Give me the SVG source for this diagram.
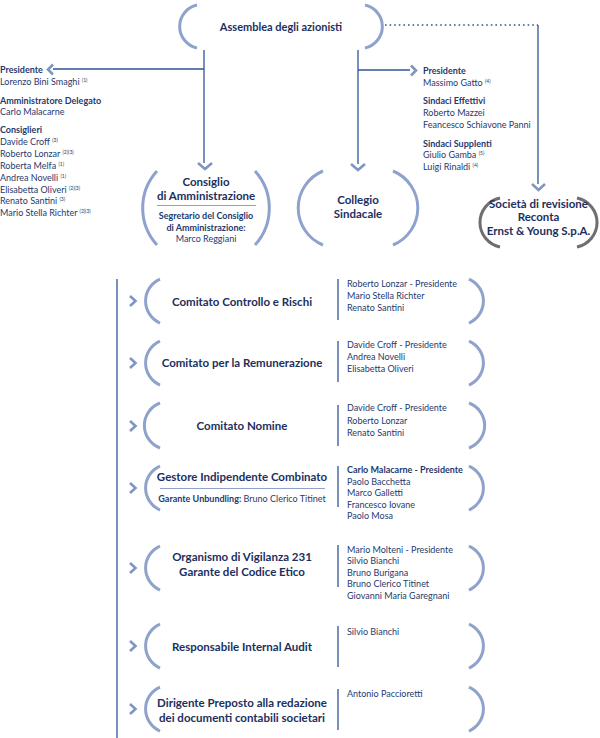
<svg xmlns="http://www.w3.org/2000/svg" width="600" height="738" viewBox="0 0 600 738">
<style>
text{font-family:Lato,"Liberation Sans",sans-serif;fill:#1f3a6e}
.t{font-size:11.5px;font-weight:bold;text-anchor:middle;fill:#1c2f5e}
.ts{font-size:9px;text-anchor:middle}
.l{font-size:9px}
.b{font-weight:bold}
.sup{font-size:5px}
.arc{fill:none;stroke:#8ea2cc;stroke-width:3}
.garc{fill:none;stroke:#6e6e6e;stroke-width:3}
.ln{fill:none;stroke:#2d5597;stroke-width:1.3}
.chev{fill:none;stroke:#7f95c4;stroke-width:2.6}
</style>
<g id="connectors">
<line class="ln" x1="204" y1="50" x2="204" y2="163"/>
<line class="ln" x1="53" y1="69" x2="204" y2="69"/>
<line class="ln" x1="358" y1="50" x2="358" y2="164"/>
<line class="ln" x1="358" y1="70" x2="410" y2="70"/>
<line class="ln" x1="385" y1="25" x2="538" y2="25" stroke-dasharray="1.6 3" stroke-width="1.8"/>
<line class="ln" x1="538" y1="25" x2="538" y2="184"/>
<polyline class="chev" points="53,64.5 48,69.5 53,74.5"/>
<polyline class="chev" points="411,65.5 416,70.5 411,75.5"/>
<polyline class="chev" points="198,163 205,169 212,163"/>
<polyline class="chev" points="351,164 358,170 365,164"/>
<polyline class="chev" points="532,184 538.5,190 545,184"/>
<line class="ln" x1="117" y1="279" x2="117" y2="738"/>
</g>
<g id="assemblea">
<path class="arc" d="M197,5 A22,22 0 0 0 197,48"/>
<path class="arc" d="M365,5 A22,22 0 0 1 365,48"/>
<text class="t" x="281" y="31" style="font-size:11px">Assemblea degli azionisti</text>
</g>
<g id="cda-list">
<text class="l b" x="0" y="73">Presidente</text>
<text class="l" x="0" y="85">Lorenzo Bini Smaghi <tspan class="sup" dy="-3">(1)</tspan></text>
<text class="l b" x="0" y="104">Amministratore Delegato</text>
<text class="l" x="0" y="115">Carlo Malacarne</text>
<text class="l b" x="0" y="133">Consiglieri</text>
<text class="l" x="0" y="145">Davide Croff <tspan class="sup" dy="-3">(3)</tspan></text>
<text class="l" x="0" y="157">Roberto Lonzar <tspan class="sup" dy="-3">(2)(3)</tspan></text>
<text class="l" x="0" y="168.5">Roberta Melfa <tspan class="sup" dy="-3">(1)</tspan></text>
<text class="l" x="0" y="180.5">Andrea Novelli <tspan class="sup" dy="-3">(1)</tspan></text>
<text class="l" x="0" y="192.5">Elisabetta Oliveri <tspan class="sup" dy="-3">(2)(3)</tspan></text>
<text class="l" x="0" y="204">Renato Santini <tspan class="sup" dy="-3">(3)</tspan></text>
<text class="l" x="0" y="216">Mario Stella Richter <tspan class="sup" dy="-3">(2)(3)</tspan></text>
</g>
<g id="collegio-list">
<text class="l b" x="423" y="74">Presidente</text>
<text class="l" x="423" y="86">Massimo Gatto <tspan class="sup" dy="-3">(4)</tspan></text>
<text class="l b" x="423" y="104">Sindaci Effettivi</text>
<text class="l" x="423" y="116">Roberto Mazzei</text>
<text class="l" x="423" y="128">Feancesco Schiavone Panni</text>
<text class="l b" x="423" y="147">Sindaci Supplenti</text>
<text class="l" x="423" y="158">Giulio Gamba <tspan class="sup" dy="-3">(5)</tspan></text>
<text class="l" x="423" y="170">Luigi Rinaldi <tspan class="sup" dy="-3">(4)</tspan></text>
</g>
<g id="consiglio">
<path class="arc" d="M157,171 A55,55 0 0 0 157,245"/>
<path class="arc" d="M255,171 A55,55 0 0 1 255,245"/>
<text class="t" x="206" y="186">Consiglio</text>
<text class="t" x="206" y="200">di Amministrazione</text>
<line x1="157" y1="205.5" x2="256" y2="205.5" stroke="#8ea2cc" stroke-width="1"/>
<text class="ts b" x="206" y="219">Segretario del Consiglio</text>
<text class="ts b" x="206" y="231">di Amministrazione:</text>
<text class="ts" x="206" y="242">Marco Reggiani</text>
</g>
<g id="collegio">
<path class="arc" d="M323,171 A40,40 0 0 0 323,245"/>
<path class="arc" d="M393,171 A40,40 0 0 1 393,245"/>
<text class="t" x="358" y="204">Collegio</text>
<text class="t" x="358" y="218">Sindacale</text>
</g>
<g id="societa">
<path class="garc" d="M500,198 A25,25 0 0 0 500,247"/>
<path class="garc" d="M577,198 A25,25 0 0 1 577,247"/>
<text class="t" x="538.5" y="208">Società di revisione</text>
<text class="t" x="538.5" y="221">Reconta</text>
<text class="t" x="538.5" y="235">Ernst &amp; Young S.p.A.</text>
</g>
<g id="comitato-controllo">
<polyline class="chev" points="130,296 135.5,301 130,306"/>
<path class="arc" d="M160,279 A24,24 0 0 0 160,323"/>
<path class="arc" d="M469,279 A24,24 0 0 1 469,323"/>
<text class="t" x="242" y="306">Comitato Controllo e Rischi</text>
<line class="ln" x1="338" y1="279" x2="338" y2="320"/>
<text class="l" x="347" y="287">Roberto Lonzar - Presidente</text>
<text class="l" x="347" y="299">Mario Stella Richter</text>
<text class="l" x="347" y="310.5">Renato Santini</text>
</g>
<g id="comitato-remunerazione">
<polyline class="chev" points="130,358 135.5,363 130,368"/>
<path class="arc" d="M160,341 A24,24 0 0 0 160,385"/>
<path class="arc" d="M469,341 A24,24 0 0 1 469,385"/>
<text class="t" x="242" y="367">Comitato per la Remunerazione</text>
<line class="ln" x1="338" y1="341" x2="338" y2="382"/>
<text class="l" x="347" y="348">Davide Croff - Presidente</text>
<text class="l" x="347" y="360">Andrea Novelli</text>
<text class="l" x="347" y="371.5">Elisabetta Oliveri</text>
</g>
<g id="comitato-nomine">
<polyline class="chev" points="130,421 135.5,426 130,431"/>
<path class="arc" d="M160,403 A24,24 0 0 0 160,448"/>
<path class="arc" d="M469,403 A24,24 0 0 1 469,448"/>
<text class="t" x="242" y="430">Comitato Nomine</text>
<line class="ln" x1="338" y1="405" x2="338" y2="446"/>
<text class="l" x="347" y="411">Davide Croff - Presidente</text>
<text class="l" x="347" y="424">Roberto Lonzar</text>
<text class="l" x="347" y="436">Renato Santini</text>
</g>
<g id="gestore">
<polyline class="chev" points="130,483 135.5,488 130,493"/>
<path class="arc" d="M160,466 A24,24 0 0 0 160,510"/>
<path class="arc" d="M469,466 A24,24 0 0 1 469,510"/>
<text class="t" x="242" y="481">Gestore Indipendente Combinato</text>
<line x1="160" y1="488.5" x2="325" y2="488.5" stroke="#8ea2cc" stroke-width="1"/>
<text class="ts" x="242" y="502"><tspan class="b">Garante Unbundling:</tspan> Bruno Clerico Titinet</text>
<line class="ln" x1="338" y1="466" x2="338" y2="507"/>
<text class="l b" x="347" y="473">Carlo Malacarne - Presidente</text>
<text class="l" x="347" y="484.5">Paolo Bacchetta</text>
<text class="l" x="347" y="496">Marco Galletti</text>
<text class="l" x="347" y="507.5">Francesco Iovane</text>
<text class="l" x="347" y="519">Paolo Mosa</text>
</g>
<g id="organismo">
<polyline class="chev" points="130,563 135.5,568 130,573"/>
<path class="arc" d="M160,546 A24,24 0 0 0 160,590"/>
<path class="arc" d="M469,546 A24,24 0 0 1 469,590"/>
<text class="t" x="242" y="561">Organismo di Vigilanza 231</text>
<text class="t" x="242" y="576">Garante del Codice Etico</text>
<line class="ln" x1="338" y1="545" x2="338" y2="587"/>
<text class="l" x="347" y="552.5">Mario Molteni - Presidente</text>
<text class="l" x="347" y="564">Silvio Bianchi</text>
<text class="l" x="347" y="575.5">Bruno Burigana</text>
<text class="l" x="347" y="587">Bruno Clerico Titinet</text>
<text class="l" x="347" y="598.5">Giovanni Maria Garegnani</text>
</g>
<g id="internal-audit">
<polyline class="chev" points="130,641 135.5,646 130,651"/>
<path class="arc" d="M160,624 A24,24 0 0 0 160,668"/>
<path class="arc" d="M469,624 A24,24 0 0 1 469,668"/>
<text class="t" x="242" y="651">Responsabile Internal Audit</text>
<line class="ln" x1="338" y1="626" x2="338" y2="667"/>
<text class="l" x="347" y="635">Silvio Bianchi</text>
</g>
<g id="dirigente">
<polyline class="chev" points="130,704 135.5,709 130,714"/>
<path class="arc" d="M160,687 A24,24 0 0 0 160,731"/>
<path class="arc" d="M469,687 A24,24 0 0 1 469,731"/>
<text class="t" x="242" y="707">Dirigente Preposto alla redazione</text>
<text class="t" x="242" y="722">dei documenti contabili societari</text>
<line class="ln" x1="338" y1="689" x2="338" y2="730"/>
<text class="l" x="347" y="697">Antonio Paccioretti</text>
</g>
</svg>
